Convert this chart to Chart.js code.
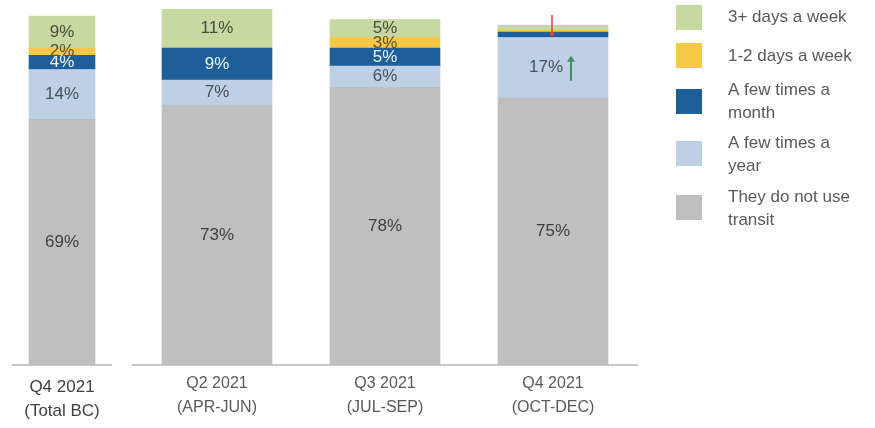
<!DOCTYPE html>
<html>
<head>
<meta charset="utf-8">
<script src="https://cdn.jsdelivr.net/npm/chart.js@4.4.1/dist/chart.umd.min.js"></script>
<style>
  html, body { margin: 0; padding: 0; background: #ffffff; }
  #wrap { position: relative; width: 875px; height: 428px; overflow: hidden; }
  #cMain { position: absolute; left: 0; top: 0; }
  #cTotal { position: absolute; left: 0; top: 0; }
</style>
</head>
<body>
<div id="wrap">
  <canvas id="cMain" width="875" height="440"></canvas>
  <canvas id="cTotal" width="125" height="440"></canvas>
</div>
<script>
// ---------- DATA ----------
const totalCategories = [["Q4 2021", "(Total BC)"]];
const quarterCategories = [["Q2 2021", "(APR-JUN)"], ["Q3 2021", "(JUL-SEP)"], ["Q4 2021", "(OCT-DEC)"]];

const seriesNames = ["They do not use transit", "A few times a year", "A few times a month", "1-2 days a week", "3+ days a week"];
const legendLines = [["They do not use", "transit"], ["A few times a", "year"], ["A few times a", "month"], ["1-2 days a week"], ["3+ days a week"]];

// order: Total BC, Q2, Q3, Q4
const noTransit     = [69, 73, 78, 75];
const fewTimesYear  = [14, 7, 6, 17];
const fewTimesMonth = [4, 9, 5, 1.5];
const oneTwoWeek    = [2, 0, 3, 0.5];
const threePlusWeek = [9, 11, 5, 1.5];

const noTransitLabels     = ["69%", "73%", "78%", "75%"];
const fewTimesYearLabels  = ["14%", "7%", "6%", "17%"];
const fewTimesMonthLabels = ["4%", "9%", "5%", ""];
const oneTwoWeekLabels    = ["2%", "", "3%", ""];
const threePlusWeekLabels = ["9%", "11%", "5%", ""];

// trend markers on the Q4 (OCT-DEC) bar: series index, direction
const trendMarks = [
  { series: 1, bar: 2, direction: "up" },
  { series: 2, bar: 2, direction: "down" }
];

// ---------- STYLE ----------
const colors = ["#bfbfbf", "#bdd0e6", "#1f5f99", "#f5c846", "#c6d9a1"];
const labelColors = ["#404040", "#4a4f58", "#eef4ff", "#5c5030", "#4a4a3c"];
const FONT = "'Liberation Sans', Arial, sans-serif";

const allValues = [noTransit, fewTimesYear, fewTimesMonth, oneTwoWeek, threePlusWeek];
const allLabels = [noTransitLabels, fewTimesYearLabels, fewTimesMonthLabels, oneTwoWeekLabels, threePlusWeekLabels];

function buildDatasets(from, to, thickness) {
  return seriesNames.map((name, s) => ({
    label: name,
    data: allValues[s].slice(from, to),
    segLabels: allLabels[s].slice(from, to),
    backgroundColor: colors[s],
    borderWidth: 0,
    barThickness: thickness,
    stack: "s"
  }));
}

const segLabelPlugin = {
  id: "segLabels",
  afterDatasetsDraw(chart, args, opts) {
    const ctx = chart.ctx;
    ctx.save();
    ctx.font = "17px " + FONT;
    ctx.textAlign = "center";
    ctx.textBaseline = "middle";
    chart.data.datasets.forEach((ds, di) => {
      const meta = chart.getDatasetMeta(di);
      meta.data.forEach((el, i) => {
        const txt = ds.segLabels[i];
        if (!txt) return;
        const p = el.getProps(["x", "y", "base"], true);
        const cy = (p.y + p.base) / 2;
        let cx = p.x;
        const mark = (opts.marks || []).find(m => m.series === di && m.bar === i && m.direction === "up");
        ctx.fillStyle = labelColors[di];
        if (mark) {
          const w = ctx.measureText(txt).width;
          cx = p.x - 7;
          ctx.fillText(txt, cx, cy);
          const ax = cx + w / 2 + 8;
          ctx.strokeStyle = "#3c8f5c";
          ctx.fillStyle = "#3c8f5c";
          ctx.lineWidth = 2;
          ctx.beginPath();
          ctx.moveTo(ax, cy + 13);
          ctx.lineTo(ax, cy - 7);
          ctx.stroke();
          ctx.beginPath();
          ctx.moveTo(ax - 4, cy - 6);
          ctx.lineTo(ax + 4, cy - 6);
          ctx.lineTo(ax, cy - 12);
          ctx.closePath();
          ctx.fill();
        } else {
          ctx.fillText(txt, cx, cy);
        }
      });
    });
    // down markers
    (opts.marks || []).filter(m => m.direction === "down").forEach(m => {
      const el = chart.getDatasetMeta(m.series).data[m.bar];
      if (!el) return;
      const p = el.getProps(["x", "y", "base"], true);
      const topEl = chart.getDatasetMeta(chart.data.datasets.length - 1).data[m.bar];
      const top = topEl.getProps(["y"], true).y;
      const x = p.x - 1;
      ctx.strokeStyle = "#e0443c";
      ctx.fillStyle = "#e0443c";
      ctx.lineWidth = 1.5;
      ctx.beginPath();
      ctx.moveTo(x, top - 10);
      ctx.lineTo(x, p.base - 4);
      ctx.stroke();
      ctx.beginPath();
      ctx.moveTo(x - 3, p.base - 5);
      ctx.lineTo(x + 3, p.base - 5);
      ctx.lineTo(x, p.base);
      ctx.closePath();
      ctx.fill();
    });
    ctx.restore();
  }
};

const legendPlugin = {
  id: "sideLegend",
  afterDraw(chart, args, opts) {
    if (!opts.show) return;
    const ctx = chart.ctx;
    ctx.save();
    ctx.font = "17px " + FONT;
    ctx.textAlign = "left";
    ctx.textBaseline = "middle";
    const boxCenters = [207, 153, 101, 55, 17];
    const textTops = [197, 143, 90, 56, 17];
    seriesNames.forEach((name, s) => {
      ctx.fillStyle = colors[s];
      ctx.fillRect(676, boxCenters[s] - 12, 26, 25);
      ctx.fillStyle = "#595959";
      legendLines[s].forEach((line, k) => {
        ctx.fillText(line, 728, textTops[s] + k * 23);
      });
    });
    ctx.restore();
  }
};

function makeOptions(padL, padR, padB, tickFont, tickPad, tickColor, showLegend) {
  return {
    responsive: false,
    animation: false,
    devicePixelRatio: 1,
    layout: { padding: { left: padL, right: padR, top: 9, bottom: padB } },
    plugins: {
      legend: { display: false },
      tooltip: { enabled: false },
      segLabels: { marks: showLegend ? trendMarks : [] },
      sideLegend: { show: showLegend }
    },
    scales: {
      x: {
        stacked: true,
        grid: { display: false, drawTicks: false },
        border: { display: true, color: "#c9c9c9", width: 2 },
        ticks: { color: tickColor, padding: tickPad, font: { family: FONT, size: tickFont, lineHeight: 24 / tickFont } }
      },
      y: {
        stacked: true,
        display: false,
        min: 0,
        max: 100
      }
    }
  };
}

new Chart(document.getElementById("cMain"), {
  type: "bar",
  data: { labels: quarterCategories, datasets: buildDatasets(1, 4, 110) },
  options: makeOptions(133, 238, 13, 16, 7, "#595959", true),
  plugins: [segLabelPlugin, legendPlugin]
});

new Chart(document.getElementById("cTotal"), {
  type: "bar",
  data: { labels: totalCategories, datasets: buildDatasets(0, 1, 66) },
  options: makeOptions(13, 14, 7, 17, 10, "#404040", false),
  plugins: [segLabelPlugin]
});
</script>
</body>
</html>
